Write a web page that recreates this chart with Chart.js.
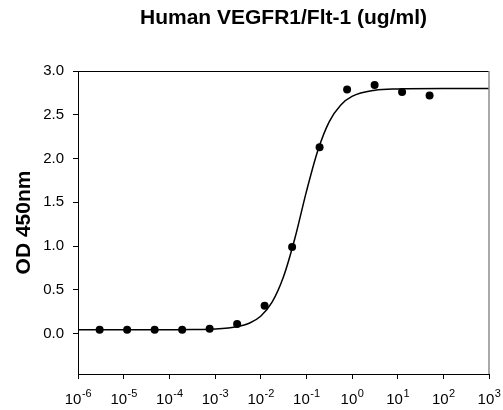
<!DOCTYPE html>
<html>
<head>
<meta charset="utf-8">
<script src="https://cdn.jsdelivr.net/npm/chart.js@4/dist/chart.umd.min.js"></script>
<style>
  html, body { margin: 0; padding: 0; background: #ffffff; }
  #wrap { width: 503px; height: 410px; }
</style>
</head>
<body>
<div id="wrap"><canvas id="c" width="503" height="410"></canvas></div>
<script>
// ---- data ----
const concentrations = [50, 12.5, 3.125, 0.781, 0.195, 0.0488, 0.0122, 0.00305, 0.000763, 0.000191, 0.0000477, 0.0000119, 0.00000298];
const odValues = [2.72, 2.76, 2.84, 2.79, 2.13, 0.99, 0.32, 0.11, 0.057, 0.045, 0.045, 0.045, 0.045];

const fitX = [1e-6, 1e-5, 1e-4, 3.16e-4, 1e-3, 3.16e-3, 5.62e-3, 1e-2, 1.78e-2, 3.16e-2, 5.62e-2, 0.1, 0.178, 0.316, 0.562, 1, 3.16, 10, 100, 1000];
const fitY = [0.045, 0.045, 0.046, 0.047, 0.053, 0.082, 0.12, 0.20, 0.36, 0.65, 1.09, 1.62, 2.09, 2.42, 2.61, 2.71, 2.78, 2.795, 2.80, 2.80];

const xTickExponents = [-6, -5, -4, -3, -2, -1, 0, 1, 2, 3];
const yTickValues = [0, 0.5, 1.0, 1.5, 2.0, 2.5, 3.0];

const titleText = 'Human VEGFR1/Flt-1 (ug/ml)';
const yTitleText = 'OD 450nm';

const FONT = "'Liberation Sans', Arial, Helvetica, sans-serif";

const framePlugin = {
  id: 'frame',
  afterDraw(chart) {
    const { ctx, chartArea: a } = chart;
    ctx.save();
    // top border
    ctx.strokeStyle = '#000000';
    ctx.lineWidth = 1;
    ctx.beginPath();
    ctx.moveTo(a.left, a.top + 0.5);
    ctx.lineTo(a.right, a.top + 0.5);
    ctx.stroke();
    // right border (gray)
    ctx.strokeStyle = '#8c8c8c';
    ctx.lineWidth = 1.5;
    ctx.beginPath();
    ctx.moveTo(a.right, a.top);
    ctx.lineTo(a.right, a.bottom);
    ctx.stroke();
    // x tick labels with superscript exponents
    const xs = chart.scales.x;
    ctx.fillStyle = '#000000';
    ctx.textBaseline = 'alphabetic';
    ctx.textAlign = 'left';
    xTickExponents.forEach(e => {
      const px = xs.getPixelForValue(Math.pow(10, e));
      ctx.font = '15px ' + FONT;
      const wb = ctx.measureText('10').width;
      ctx.font = '11px ' + FONT;
      const expStr = (e < 0 ? '-' : '') + Math.abs(e);
      const we = ctx.measureText(expStr).width;
      const start = px - (wb + we) / 2;
      ctx.font = '15px ' + FONT;
      ctx.fillText('10', start, 404);
      ctx.font = '11px ' + FONT;
      ctx.fillText(expStr, start + wb + 0.5, 397);
    });
    ctx.restore();
  }
};

new Chart(document.getElementById('c'), {
  type: 'scatter',
  data: {
    datasets: [
      {
        label: 'Fit',
        type: 'line',
        data: fitX.map((x, i) => ({ x: x, y: fitY[i] })),
        borderColor: '#000000',
        borderWidth: 1.5,
        pointRadius: 0,
        fill: false,
        cubicInterpolationMode: 'monotone',
        order: 2
      },
      {
        label: 'OD',
        data: concentrations.map((x, i) => ({ x: x, y: odValues[i] })),
        backgroundColor: '#000000',
        borderColor: '#000000',
        pointRadius: 4,
        pointBorderWidth: 0,
        order: 1
      }
    ]
  },
  options: {
    responsive: false,
    animation: false,
    devicePixelRatio: 1,
    layout: { padding: { left: 0, right: 14, top: 0, bottom: 0 } },
    plugins: {
      legend: { display: false },
      tooltip: { enabled: false },
      title: {
        display: true,
        text: titleText,
        fullSize: false,
        color: '#000000',
        font: { family: FONT, size: 21, weight: 'bold' },
        padding: { top: 5.4, bottom: 40.4 }
      }
    },
    scales: {
      x: {
        type: 'logarithmic',
        min: 1e-6,
        max: 1e3,
        afterBuildTicks(scale) {
          scale.ticks = xTickExponents.map(e => ({ value: Math.pow(10, e) }));
        },
        afterFit(scale) { scale.height = 36; },
        grid: { drawOnChartArea: false, drawTicks: true, tickLength: 5, color: '#000000' },
        border: { display: true, color: '#000000', width: 1 },
        ticks: { display: false }
      },
      y: {
        type: 'linear',
        min: -0.46,
        max: 3.0,
        afterBuildTicks(scale) {
          scale.ticks = yTickValues.map(v => ({ value: v }));
        },
        afterFit(scale) { scale.width = 78; },
        grid: { drawOnChartArea: false, drawTicks: true, tickLength: 5, color: '#000000' },
        border: { display: true, color: '#000000', width: 1 },
        ticks: {
          color: '#000000',
          padding: 9,
          font: { family: FONT, size: 15 },
          callback: v => Number(v).toFixed(1)
        },
        title: {
          display: true,
          text: yTitleText,
          color: '#000000',
          font: { family: FONT, size: 21, weight: 'bold' },
          padding: { top: 12, bottom: 0 }
        }
      }
    }
  },
  plugins: [framePlugin]
});
</script>
</body>
</html>
